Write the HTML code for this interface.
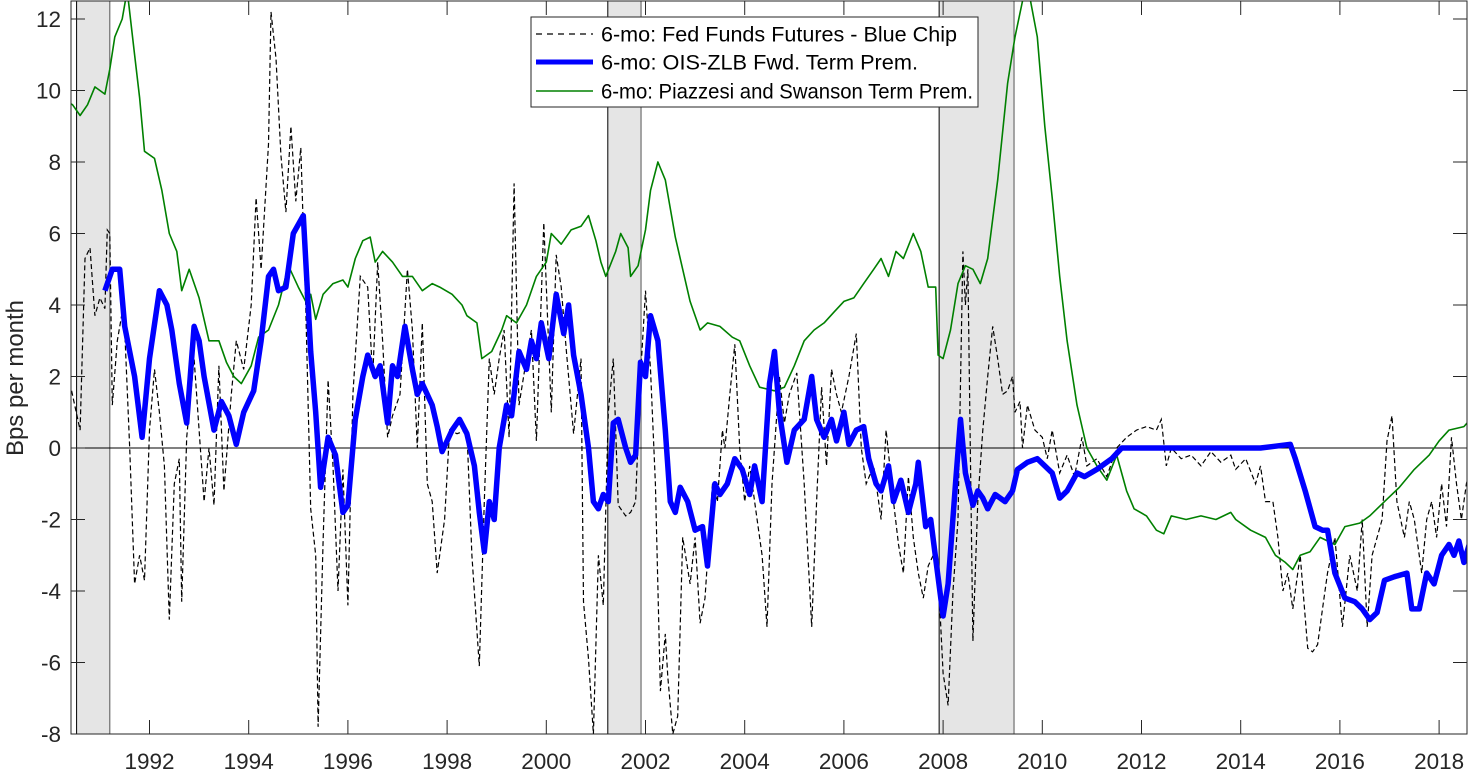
<!DOCTYPE html>
<html><head><meta charset="utf-8"><style>
html,body{margin:0;padding:0;background:#fff;}
svg text{font-family:"Liberation Sans",Arial,sans-serif;}
</style></head><body>
<svg id="chart" width="1469" height="777" xmlns="http://www.w3.org/2000/svg">
<defs><clipPath id="plotclip"><rect x="71" y="1" width="1396" height="733"/></clipPath></defs>
<g id="rec" clip-path="url(#plotclip)"></g>
<g id="grid"></g>
<g id="series" clip-path="url(#plotclip)"></g>
<rect x="71" y="1" width="1396" height="733" fill="none" stroke="#262626" stroke-width="1"/>
<g id="xt"></g>
<g id="yt"></g>
<text x="23" y="378" transform="rotate(-90 23 378)" text-anchor="middle" font-size="24" fill="#262626">Bps per month</text>
<g>
<rect x="531" y="17" width="447" height="90" fill="#fff" stroke="#262626" stroke-width="1"/>
<g><line x1="536" y1="34" x2="593" y2="34" stroke="#000" stroke-width="1.3" stroke-dasharray="6,5"/><text x="601" y="41.5" font-size="21" textLength="356" lengthAdjust="spacingAndGlyphs">6-mo: Fed Funds Futures - Blue Chip</text></g>
<g><line x1="536" y1="62" x2="593" y2="62" stroke="#0000ff" stroke-width="5"/><text x="601" y="69.5" font-size="21" textLength="317" lengthAdjust="spacingAndGlyphs">6-mo: OIS-ZLB Fwd. Term Prem.</text></g>
<g><line x1="536" y1="91" x2="593" y2="91" stroke="#008000" stroke-width="1.5"/><text x="601" y="98.5" font-size="21" textLength="372" lengthAdjust="spacingAndGlyphs">6-mo: Piazzesi and Swanson Term Prem.</text></g>
</g>
</svg>
<script>
const xTicks=[1992,1994,1996,1998,2000,2002,2004,2006,2008,2010,2012,2014,2016,2018];
const yTicks=[-8,-6,-4,-2,0,2,4,6,8,10,12];
const recessions=[[1990.53,1991.2],[2001.24,2001.91],[2007.92,2009.43]];
const blueX=[1991.2,1991.35,1991.5,1991.6,1991.8,1991.95,1992.1,1992.3,1992.45,1992.55,1992.7,1992.85,1993.0,1993.1,1993.2,1993.4,1993.55,1993.7,1993.85,1994.0,1994.2,1994.35,1994.5,1994.6,1994.7,1994.85,1995.0,1995.2,1995.35,1995.45,1995.55,1995.7,1995.85,1996.0,1996.1,1996.25,1996.4,1996.5,1996.65,1996.75,1996.9,1997.0,1997.1,1997.25,1997.4,1997.5,1997.6,1997.8,1997.9,1998.0,1998.2,1998.35,1998.5,1998.65,1998.75,1998.85,1998.95,1999.05,1999.15,1999.3,1999.4,1999.55,1999.7,1999.8,1999.9,2000.0,2000.15,2000.3,2000.45,2000.55,2000.65,2000.8,2000.95,2001.05,2001.15,2001.25,2001.35,2001.45,2001.55,2001.7,2001.8,2001.9,2002.0,2002.1,2002.2,2002.35,2002.5,2002.6,2002.7,2002.8,2002.95,2003.1,2003.25,2003.35,2003.5,2003.6,2003.75,2003.9,2004.05,2004.2,2004.3,2004.45,2004.6,2004.7,2004.8,2004.95,2005.1,2005.3,2005.45,2005.55,2005.7,2005.85,2005.95,2006.1,2006.2,2006.35,2006.5,2006.6,2006.75,2006.85,2007.0,2007.1,2007.25,2007.4,2007.55,2007.6,2007.75,2007.85,2007.95,2008.1,2008.2,2008.35,2008.45,2008.55,2008.7,2008.8,2008.9,2009.0,2009.15,2009.35,2009.5,2009.6,2009.8,2010.0,2010.15,2010.3,2010.45,2010.6,2010.8,2010.95,2011.2,2011.5,2011.7,2013,2014.5,2014.8,2015.1,2015.2,2015.4,2015.6,2015.75,2015.85,2016.0,2016.2,2016.4,2016.55,2016.7,2016.85,2017.0,2017.2,2017.45,2017.55,2017.7,2017.85,2018.0,2018.15,2018.3,2018.4,2018.5,2018.6,2018.73];
const blueY=[4.4,5.0,5.0,3.4,2.0,0.3,2.5,4.4,4.0,3.3,1.8,0.7,3.4,3.0,2.0,0.5,1.3,0.9,0.1,1.0,1.6,3.0,4.8,5.0,4.4,4.5,6.0,6.5,2.7,1.0,-1.1,0.3,-0.2,-1.8,-1.6,0.8,2.0,2.6,2.0,2.3,0.7,2.3,2.0,3.4,2.2,1.5,1.8,1.2,0.6,-0.1,0.5,0.8,0.4,-0.5,-1.8,-2.9,-1.5,-2.0,0,1.2,0.9,2.7,2.2,3.0,2.5,3.5,2.5,4.3,3.2,4.0,2.6,1.5,0,-1.5,-1.7,-1.3,-1.5,0.7,0.8,0,-0.4,-0.2,2.4,2.0,3.7,3.0,0.5,-1.5,-1.8,-1.1,-1.5,-2.3,-2.2,-3.3,-1.0,-1.3,-1.0,-0.3,-0.6,-1.3,-0.5,-1.5,1.8,2.7,1.0,-0.4,0.5,0.8,2.0,0.8,0.3,0.8,0.2,1.0,0.1,0.5,0.6,-0.3,-1.0,-1.2,-0.5,-1.5,-0.9,-1.8,-1.0,-0.4,-2.2,-2.0,-3.1,-4.7,-3.8,-1.0,0.8,-0.7,-1.6,-1.2,-1.4,-1.7,-1.3,-1.5,-1.2,-0.6,-0.4,-0.3,-0.5,-0.7,-1.4,-1.2,-0.7,-0.8,-0.6,-0.3,0,0,0,0.05,0.1,-0.3,-1.2,-2.2,-2.3,-2.3,-3.5,-4.2,-4.3,-4.5,-4.8,-4.6,-3.7,-3.6,-3.5,-4.5,-4.5,-3.5,-3.8,-3.0,-2.7,-3.0,-2.6,-3.2,-2.6];
const greenX=[1990.43,1990.55,1990.7,1990.85,1991.0,1991.1,1991.2,1991.3,1991.4,1991.55,1991.65,1991.8,1991.9,1992.0,1992.2,1992.35,1992.5,1992.65,1992.75,1992.9,1993.1,1993.3,1993.5,1993.65,1993.8,1993.95,1994.15,1994.3,1994.5,1994.7,1994.9,1995.1,1995.25,1995.35,1995.45,1995.6,1995.8,1996.0,1996.1,1996.25,1996.4,1996.55,1996.65,1996.8,1997.0,1997.2,1997.4,1997.6,1997.8,1997.95,1998.2,1998.4,1998.5,1998.7,1998.8,1999.0,1999.2,1999.3,1999.5,1999.7,1999.9,2000.1,2000.2,2000.4,2000.6,2000.8,2000.95,2001.1,2001.2,2001.3,2001.5,2001.6,2001.75,2001.8,2001.95,2002.1,2002.2,2002.35,2002.5,2002.7,2002.85,2003.0,2003.2,2003.35,2003.6,2003.85,2004.0,2004.2,2004.4,2004.7,2004.9,2005.1,2005.3,2005.5,2005.7,2005.9,2006.1,2006.3,2006.5,2006.7,2006.85,2007.0,2007.15,2007.3,2007.5,2007.65,2007.8,2007.95,2008.0,2008.1,2008.25,2008.4,2008.55,2008.7,2008.85,2009.0,2009.2,2009.4,2009.55,2009.7,2009.85,2010.0,2010.15,2010.3,2010.45,2010.6,2010.8,2011.0,2011.2,2011.4,2011.6,2011.8,2011.95,2012.2,2012.4,2012.55,2012.7,2013.0,2013.3,2013.6,2013.9,2014.0,2014.3,2014.6,2014.8,2015.0,2015.15,2015.3,2015.5,2015.7,2016.0,2016.2,2016.5,2016.7,2017.0,2017.3,2017.6,2017.9,2018.1,2018.3,2018.6,2018.73];
const greenY=[9.7,9.6,9.3,9.6,10.1,10.0,9.9,10.6,11.5,12.0,12.8,11.0,9.8,8.3,8.1,7.2,6.0,5.5,4.4,5.0,4.2,3.0,3.0,2.4,2.0,1.8,2.3,3.1,3.3,4.0,5.1,4.5,4.1,4.3,3.6,4.3,4.6,4.7,4.5,5.3,5.8,5.9,5.2,5.5,5.2,4.8,4.8,4.4,4.6,4.5,4.3,4.0,3.7,3.5,2.5,2.7,3.3,3.7,3.5,4.0,4.8,5.2,6.0,5.7,6.1,6.2,6.5,5.8,5.2,4.8,5.5,6.0,5.6,4.8,5.1,6.1,7.2,8.0,7.5,5.9,5.0,4.1,3.3,3.5,3.4,3.1,3.0,2.3,1.7,1.6,1.7,2.3,3.0,3.3,3.5,3.8,4.1,4.2,4.6,5.0,5.3,4.8,5.5,5.3,6.0,5.5,4.5,4.5,2.6,2.5,3.3,4.6,5.1,5.0,4.6,5.3,7.5,10.2,11.5,12.5,12.6,11.5,9.0,7.0,4.8,3.0,1.2,0.0,-0.5,-0.9,-0.2,-1.2,-1.7,-1.9,-2.3,-2.4,-1.9,-2.0,-1.9,-2.0,-1.8,-2.0,-2.3,-2.5,-3.0,-3.2,-3.4,-3.0,-2.9,-2.5,-2.7,-2.2,-2.1,-1.9,-1.5,-1.1,-0.6,-0.2,0.2,0.5,0.6,0.8];
const blackX=[1990.53,1990.7,1990.8,1990.9,1991.0,1991.1,1991.2,1991.25,1991.3,1991.35,1991.45,1991.55,1991.6,1991.7,1991.8,1991.9,1992.0,1992.1,1992.2,1992.3,1992.4,1992.5,1992.6,1992.7,1992.75,1992.85,1993.0,1993.1,1993.2,1993.3,1993.4,1993.5,1993.6,1993.75,1993.85,1994.0,1994.15,1994.25,1994.35,1994.5,1994.55,1994.65,1994.75,1994.85,1994.95,1995.05,1995.15,1995.25,1995.35,1995.45,1995.5,1995.6,1995.7,1995.8,1995.9,1996.0,1996.1,1996.2,1996.35,1996.5,1996.6,1996.7,1996.8,1996.9,1997.0,1997.15,1997.3,1997.4,1997.5,1997.6,1997.7,1997.8,1997.9,1998.05,1998.15,1998.3,1998.5,1998.6,1998.75,1998.85,1998.95,1999.05,1999.15,1999.25,1999.35,1999.45,1999.55,1999.7,1999.8,1999.9,2000.05,2000.2,2000.3,2000.4,2000.5,2000.65,2000.8,2000.85,2000.95,2001.05,2001.15,2001.25,2001.35,2001.45,2001.55,2001.7,2001.8,2001.9,2002.0,2002.1,2002.2,2002.3,2002.4,2002.5,2002.55,2002.65,2002.75,2002.85,2003.0,2003.1,2003.2,2003.3,2003.45,2003.55,2003.65,2003.7,2003.8,2003.9,2004.0,2004.1,2004.2,2004.35,2004.45,2004.55,2004.65,2004.8,2004.9,2005.0,2005.15,2005.3,2005.45,2005.55,2005.65,2005.75,2005.85,2005.95,2006.05,2006.2,2006.35,2006.45,2006.55,2006.7,2006.85,2006.95,2007.1,2007.2,2007.3,2007.4,2007.5,2007.6,2007.7,2007.8,2007.9,2008.0,2008.1,2008.2,2008.3,2008.4,2008.5,2008.55,2008.6,2008.7,2008.8,2008.9,2009.0,2009.1,2009.2,2009.3,2009.4,2009.5,2009.55,2009.65,2009.7,2009.8,2009.95,2010.1,2010.2,2010.3,2010.45,2010.6,2010.75,2010.9,2011.0,2011.2,2011.4,2011.6,2011.8,2012.0,2012.2,2012.4,2012.5,2012.6,2012.7,2012.9,2013.1,2013.3,2013.5,2013.7,2013.9,2014.0,2014.2,2014.4,2014.5,2014.6,2014.75,2014.85,2014.95,2015.05,2015.15,2015.3,2015.45,2015.55,2015.65,2015.75,2015.85,2016.0,2016.15,2016.3,2016.45,2016.55,2016.65,2016.75,2016.85,2016.95,2017.05,2017.15,2017.25,2017.4,2017.5,2017.6,2017.75,2017.85,2017.95,2018.05,2018.15,2018.25,2018.35,2018.45,2018.55,2018.65,2018.73];
const blackY=[1.6,0.5,5.3,5.6,3.7,4.2,3.9,6.1,6.0,1.2,3.0,3.8,3.3,0,-3.8,-3.0,-3.7,0.5,2.2,1.0,-0.5,-4.8,-1.0,-0.3,-4.3,0.3,2.5,0.5,-1.5,0,-1.6,2.3,-1.2,1.5,3.0,2.2,4.0,7.0,5.0,8.5,12.2,10.9,8.2,6.6,9.0,6.9,8.4,4.0,-1.7,-3.0,-7.8,-2.6,1.9,-0.5,-4.0,-0.6,-4.4,1.5,4.8,4.5,2.0,5.2,3.0,0.3,0.9,1.5,5.0,3.3,0,3.5,-1.0,-1.5,-3.5,-2.0,0.5,0.4,0.5,-3.0,-6.1,-1.5,2.5,1.5,2.5,3.3,0.3,7.4,1.2,2.5,3.3,0.2,6.3,1.0,5.4,4.5,2.8,0.4,2.5,-4.3,-5.9,-8.0,-3.0,-4.4,1.0,2.5,-1.6,-1.9,-1.8,-1.5,2.0,4.4,2.2,-1.0,-6.8,-5.2,-6.4,-8.0,-7.5,-2.5,-3.8,-2.5,-4.9,-4.2,-1.0,-1.5,0.5,0,1.5,2.9,0,-1.5,-0.5,-2.0,-3.0,-5.0,-1.0,2.0,0.7,1.5,2.1,-1.0,-5.0,-1.5,1.7,-0.5,2.2,1.5,1.0,2.0,3.2,0,-1.0,-0.5,-2.0,0.5,-1.5,-2.7,-3.5,-0.8,-2.5,-3.5,-4.2,-3.3,-3.0,-3.5,-6.3,-7.2,-4.0,-2.0,5.5,4.0,5.0,-5.4,-1.5,0.5,2.0,3.4,2.5,1.5,1.6,2.0,1.0,1.3,0,1.2,0.5,0.3,-0.3,0.5,-0.7,-0.2,-0.8,0.3,-0.5,-0.3,-0.8,0,0.3,0.5,0.6,0.5,0.8,-0.5,0,-0.3,-0.2,-0.5,-0.1,-0.4,-0.2,-0.6,-0.3,-1.0,-0.5,-1.5,-1.5,-2.5,-4.0,-3.5,-4.5,-3.0,-5.6,-5.7,-5.5,-4.5,-3.5,-2.5,-5.0,-3.0,-4.0,-2.0,-5.0,-3.0,-2.5,-2.0,0.2,0.9,-1.5,-2.5,-1.5,-2.0,-3.5,-2.0,-1.5,-2.5,-1.0,-2.2,0.3,-1.0,-2.0,-1.0,-0.6];

const NS="http://www.w3.org/2000/svg";
const L=71,R=1467,T=1,B=734;
const x0=1992,x0px=149.5,pxPerYear=49.6;
const yZero=448,yPer=35.75;
const dataShift=-0.1;
function sx(v){return x0px+(v-x0)*pxPerYear;}
function sdx(v){return sx(v+dataShift);}
function sy(v){return yZero-v*yPer;}
function mk(tag,attrs,parent){const e=document.createElementNS(NS,tag);for(const k in attrs)e.setAttribute(k,attrs[k]);parent.appendChild(e);return e;}

const rec=document.getElementById('rec');
recessions.forEach(r=>{
  const g=mk('g',{},rec);
  
  
  mk('rect',{x:sx(r[0]),y:T,width:sx(r[1])-sx(r[0]),height:B-T,fill:'#e5e5e5'},g);
  mk('line',{x1:sx(r[0]),x2:sx(r[0]),y1:T,y2:B,stroke:'#000','stroke-width':1},g);
  mk('line',{x1:sx(r[1]),x2:sx(r[1]),y1:T,y2:B,stroke:'#555','stroke-width':1},g);
});
const z=mk('line',{x1:L,x2:R,y1:sy(0),y2:sy(0),stroke:'#000','stroke-width':1},document.getElementById('grid'));



function path(xs,ys){return xs.map((x,i)=>(i?'L':'M')+sdx(x).toFixed(1)+','+sy(ys[i]).toFixed(1)).join('');}
const S=document.getElementById('series');
const pk=mk('path',{d:path(blackX,blackY),fill:'none',stroke:'#000','stroke-width':1.2,'stroke-dasharray':'5,3'},S);


const pg=mk('path',{d:path(greenX,greenY),fill:'none',stroke:'#008000','stroke-width':1.6,'stroke-linejoin':'round'},S);


const pb=mk('path',{d:path(blueX,blueY),fill:'none',stroke:'#0000ff','stroke-width':5.5,'stroke-linejoin':'round'},S);



const xt=document.getElementById('xt');
xTicks.forEach(t=>{
  const x=sx(t);
  mk('line',{x1:x,x2:x,y1:B,y2:B-14,stroke:'#262626'},xt);
  mk('line',{x1:x,x2:x,y1:T,y2:T+14,stroke:'#262626'},xt);
  const tx=mk('text',{x:x,y:769,'text-anchor':'middle','font-size':22.5,fill:'#262626'},xt);
  tx.textContent=t;
  
  
});
const yt=document.getElementById('yt');
yTicks.forEach(t=>{
  const y=sy(t);
  mk('line',{x1:L,x2:L+14,y1:y,y2:y,stroke:'#262626'},yt);
  mk('line',{x1:R,x2:R-14,y1:y,y2:y,stroke:'#262626'},yt);
  const tx=mk('text',{x:L-10,y:y+8,'text-anchor':'end','font-size':22.5,fill:'#262626'},yt);
  tx.textContent=t;
  
  
});
</script>
</body></html>
